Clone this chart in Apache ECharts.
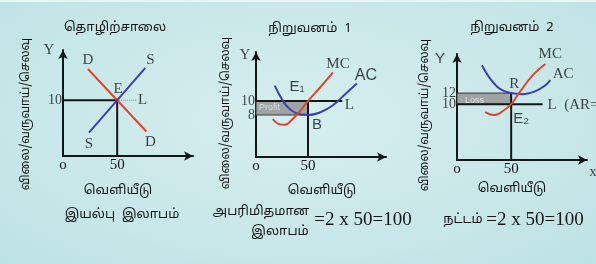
<!DOCTYPE html>
<html>
<head>
<meta charset="utf-8">
<script src="https://cdn.jsdelivr.net/npm/echarts@6/dist/echarts.min.js"></script>
<style>
html, body { margin: 0; padding: 0; }
body {
	background: radial-gradient(ellipse at 50% 45%, #d6eeee 0%, #cae8e9 55%, #bde2e4 100%);
}
#chart { width: 596px; height: 264px; border-top: 2px solid #eaf5f0; box-sizing: border-box; }
</style>
</head>
<body>
<div id="chart"></div>
<script>
/*---------- data ----------*/
// industry: demand / supply
var demand1 = [[23, 15.6], [77, 4.4]];
var supply1 = [[24, 4.2], [76, 15.8]];
var price1 = 10, qty1 = 50, dotEnd1 = 68;

// firm 1 (profit)
var mc2 = [[16, 7.4], [22, 6.7], [28, 6.6], [35, 7.4], [42, 8.5], [50, 10], [62, 12], [74, 14.1]];
var ac2 = [[18, 12.2], [24, 10.5], [30, 9.2], [38, 8.3], [50, 8], [62, 8.4], [74, 9.4], [86, 11], [97, 12.5]];
var price2 = 10, cost2 = 8, qty2 = 50, lEnd2 = 83;

// firm 2 (loss)
var mc3 = [[26, 8.6], [35, 8.05], [44, 9], [50, 10], [58, 12.2], [70, 15.2], [81.5, 17.2]];
var ac3 = [[23, 17], [31, 14.5], [40, 12.7], [50, 12], [60, 11.8], [72, 12.3], [81, 13.3], [86, 14.3]];
var price3 = 10, cost3 = 12, qty3 = 50, lEnd3 = 79;

var xMax = [120, 125, 120];
var yMin = [0, 2, 0];
var yMax = [19, 17, 19];
var xTicks = [[0, qty1], [0, qty2], [0, qty3]];
var yTicks = [[price1], [cost2, price2], [price3, cost3]];

var titles = ['தொழிற்சாலை', 'நிறுவனம்  1', 'நிறுவனம்  2'];
var yName = 'விலை/வருவாய்/செலவு';
var xName = 'வெளியீடு';
/*-------------------------*/

var serif = '"Liberation Serif", "DejaVu Serif", serif';
var sans = '"Liberation Sans", Arial, sans-serif';
var red = '#e2432c', blue = '#3b3fae', ink = '#161616';

var grids = [
	{ left: 63, top: 48, width: 130, height: 106 },
	{ left: 256, top: 50, width: 130, height: 105 },
	{ left: 457, top: 52, width: 130, height: 106 }
];

function xAxisOf(i) {
	return {
		type: 'value', gridIndex: i, min: 0, max: xMax[i],
		splitLine: { show: false }, axisTick: { show: false },
		axisLine: { show: true, onZero: false, symbol: ['none', 'arrow'], symbolSize: [7, 9], lineStyle: { color: ink, width: 2 } },
		axisLabel: {
			customValues: xTicks[i], margin: 2, fontFamily: serif, fontSize: 15, color: ink,
			formatter: function (v) { return v === 0 ? 'o' : v; }
		}
	};
}
function yAxisOf(i) {
	// tick labels on y are drawn as notes (they sit too close together for the axis)
	return {
		type: 'value', gridIndex: i, min: yMin[i], max: yMax[i],
		splitLine: { show: false }, axisTick: { show: false }, axisLabel: { show: false },
		axisLine: { show: true, onZero: false, symbol: ['none', 'arrow'], symbolSize: [7, 9], lineStyle: { color: ink, width: 2 } }
	};
}
function line(i, data, color, width, smooth, type) {
	return {
		type: 'line', xAxisIndex: i, yAxisIndex: i, data: data, symbol: 'none', clip: false, silent: true,
		smooth: smooth || 0, lineStyle: { color: color, width: width || 2, type: type || 'solid' }
	};
}
function note(pt, text, dx, dy, font, size, align, color) {
	return {
		value: pt,
		label: { formatter: text, offset: [dx, dy], fontFamily: font || serif, fontSize: size || 15, align: align || 'center', color: color || ink }
	};
}
function notes(i, items) {
	yTicks[i].forEach(function (v) {
		items.push(note([0, v], String(v), -1, 0, serif, 14, 'right'));
	});
	return {
		type: 'scatter', xAxisIndex: i, yAxisIndex: i, symbolSize: 1, clip: false, silent: true, z: 10,
		itemStyle: { color: 'rgba(0,0,0,0)' },
		label: { show: true, position: 'inside', verticalAlign: 'middle' },
		data: items
	};
}
function box(i, x0, y0, x1, y1) {
	var s = line(i, [], ink);
	s.markArea = {
		silent: true,
		itemStyle: { color: '#9ea3a3', borderColor: '#3a3a3a', borderWidth: 1 },
		data: [[{ coord: [x0, y0] }, { coord: [x1, y1] }]]
	};
	return s;
}

var series = [
	/*---------- industry ----------*/
	line(0, [[0, price1], [qty1, price1]], ink, 2),
	line(0, [[qty1, 0], [qty1, price1]], ink, 2),
	line(0, [[qty1, price1], [dotEnd1, price1]], '#8a8a8a', 1, 0, 'dotted'),
	line(0, demand1, red, 2),
	line(0, supply1, blue, 2),
	notes(0, [
		note(demand1[0], 'D', 0, -9),
		note(supply1[1], 'S', 5, -8),
		note(supply1[0], 'S', 0, 11),
		note(demand1[1], 'D', 4, 11),
		note([qty1, price1], 'E', 1, -11),
		note([dotEnd1, price1], 'L', 6, 0),
		note([0, yMax[0]], 'Y', -14, 0)
	]),
	/*---------- firm 1 ----------*/
	box(1, 0, cost2, qty2, price2),
	line(1, [[0, price2], [lEnd2, price2]], ink, 2),
	line(1, [[qty2, yMin[1]], [qty2, price2]], ink, 2),
	line(1, ac2, blue, 2, 0.4),
	line(1, mc2, red, 2, 0.4),
	notes(1, [
		note(mc2[mc2.length - 1], 'MC', 5, -8),
		note(ac2[ac2.length - 1], 'AC', 9, -8, sans, 16),
		note([qty2, price2], 'E₁', -11, -14, sans, 15),
		note([qty2, cost2], 'B', 9, 10, sans, 15),
		note([lEnd2, price2], 'L', 7, 4),
		note([0, price2], 'Profit', 3, 7, sans, 9, 'left', '#f0f0f0'),
		note([0, yMax[1]], 'Y', -11, 3)
	]),
	/*---------- firm 2 ----------*/
	box(2, 0, price3, qty3, cost3),
	line(2, [[0, price3], [lEnd3, price3]], ink, 2),
	line(2, [[qty3, 0], [qty3, cost3]], ink, 2),
	line(2, ac3, blue, 2, 0.4),
	line(2, mc3, red, 2, 0.4),
	notes(2, [
		note(mc3[mc3.length - 1], 'MC', 5, -10),
		note(ac3[ac3.length - 1], 'AC', 13, -6),
		note([qty3, cost3], 'R', 3, -9),
		note([qty3, price3], 'E₂', 10, 15, sans, 15),
		note([lEnd3, price3], 'L  (AR=MR)', 5, 1, serif, 15, 'left'),
		note([0, cost3], 'Loss', 8, 7, sans, 9, 'left', '#f0f0f0'),
		note([0, yMax[2]], 'Y', -17, 5, sans, 15),
		note([xMax[2], 0], 'x', 6, 12)
	])
];

/*---------- texts ----------*/
function txt(x, y, text, font, rot) {
	return {
		type: 'text', x: x, y: y, rotation: rot || 0, silent: true,
		style: { text: text, font: font, fill: ink, align: 'center', verticalAlign: 'middle' }
	};
}
var tamil = '"Noto Sans Tamil", "Noto Sans", sans-serif';
var graphic = [
	txt(115, 26, titles[0], '13px ' + tamil),
	txt(310, 27, titles[1], '13px ' + tamil),
	txt(512, 26, titles[2], '13px ' + tamil),
	txt(27, 112, yName, '12px ' + tamil, Math.PI / 2),
	txt(227, 111, yName, '12px ' + tamil, Math.PI / 2),
	txt(426, 113, yName, '12px ' + tamil, Math.PI / 2),
	txt(118, 189, xName, '13px ' + tamil),
	txt(322, 189, xName, '13px ' + tamil),
	txt(512, 187, xName, '13px ' + tamil),
	txt(122, 213, 'இயல்பு  இலாபம்', '13px ' + tamil),
	txt(261, 210, 'அபரிமிதமான', '13px ' + tamil),
	txt(280, 230, 'இலாபம்', '13px ' + tamil),
	txt(363, 218, '=2 x 50=100', '19px ' + serif),
	txt(463, 218, 'நட்டம்', '13px ' + tamil),
	txt(535, 218, '=2 x 50=100', '19px ' + serif)
];

var myChart = echarts.init(document.getElementById('chart'));
myChart.setOption({
	animation: false,
	grid: grids,
	xAxis: [xAxisOf(0), xAxisOf(1), xAxisOf(2)],
	yAxis: [yAxisOf(0), yAxisOf(1), yAxisOf(2)],
	series: series,
	graphic: graphic
});
</script>
</body>
</html>
